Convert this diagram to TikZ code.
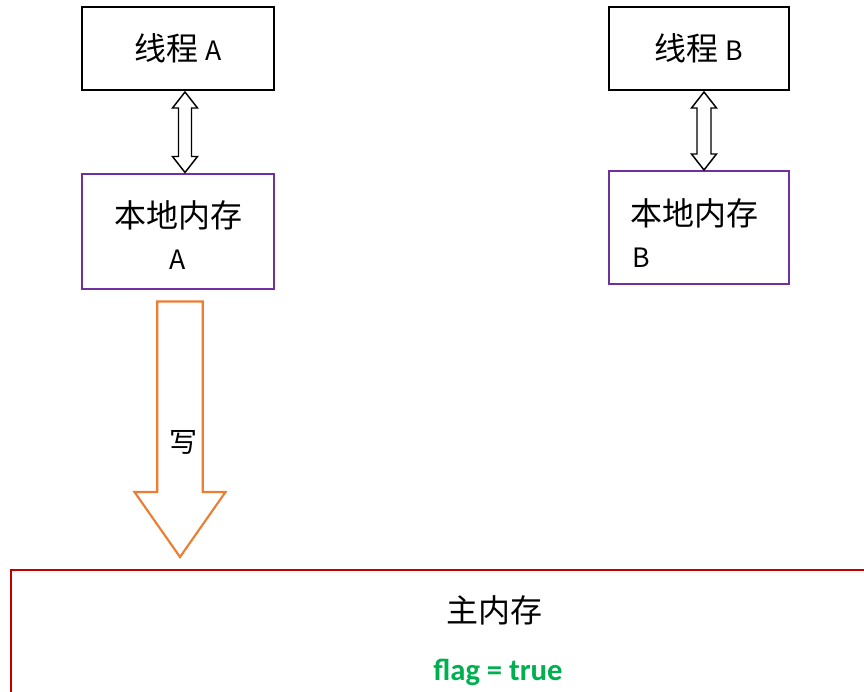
\documentclass[tikz,border=0pt]{standalone}
\usepackage{fontspec}
\setmainfont{Noto Sans CJK SC}
\newfontfamily\flagfont{Carlito}
\usetikzlibrary{calc}

\definecolor{localpurple}{HTML}{7030A0}
\definecolor{writeorange}{HTML}{ED7D31}
\definecolor{mainred}{HTML}{C00000}
\definecolor{flaggreen}{HTML}{00B050}

\newcommand{\latinsz}{\fontsize{20pt}{24pt}\selectfont}

\tikzset{
	threadbox/.style={draw, line width=1.5pt, inner sep=0pt,
		font=\fontsize{24pt}{30pt}\selectfont},
	localbox/.style={draw=localpurple, line width=1.5pt, inner sep=0pt},
	mainbox/.style={draw=mainred, line width=1.5pt, inner sep=0pt},
	txt/.style={inner sep=0pt, font=\fontsize{24pt}{30pt}\selectfont},
	dblarrow/.style={draw, line width=1.1pt, fill=white, line join=miter},
	writearrow/.style={draw=writeorange, line width=1.6pt, fill=white, line join=miter}
}

\begin{document}
\begin{tikzpicture}[x=0.75pt, y=-0.75pt]
		\useasboundingbox (0,0) rectangle (864,692);
		\clip (0,0) rectangle (864,692);

		% Threads and their local memories
		\node[threadbox, minimum width=144pt, minimum height=62.25pt] (thA) at (178,48.5) {线程 {\latinsz A}};
		\node[localbox, minimum width=144pt, minimum height=86.25pt] (locA) at (178,231) {};
		\node[txt] (locAtop) at (178,215) {本地内存};
		\node[txt, font=\latinsz] (locAbot) at (178,260) {A};

		\node[threadbox, minimum width=135pt, minimum height=62.25pt] (thB) at (699,48.5) {线程 {\latinsz B}};
		\node[localbox, minimum width=135pt, minimum height=84.75pt] (locB) at (699,227.5) {};
		\node[txt, anchor=west] (locBtop) at (630,213) {本地内存};
		\node[txt, anchor=west, font=\latinsz] (locBbot) at (632,258) {B};

		% Main memory
		\node[mainbox, anchor=north west, minimum width=660pt, minimum height=150pt] (mainmem) at (10,569) {};
		\node[txt] (mainlbl) at (494,610) {主内存};
		\node[inner sep=0pt, anchor=base, text=flaggreen,
			font=\flagfont\bfseries\fontsize{23pt}{28pt}\selectfont] (flag) at (498,680) {flag = true};

		% Hollow double arrows thread <-> local memory
		\coordinate (tA) at ($(thA.south)+(7,1)$);
		\coordinate (bA) at ($(locA.north)+(7,0)$);
		\draw[dblarrow] (tA) -- ($(tA)+(12.5,16)$) -- ($(tA)+(6.5,16)$) -- ($(bA)+(6.5,-16)$)
			-- ($(bA)+(12.5,-16)$) -- (bA) -- ($(bA)+(-12.5,-16)$) -- ($(bA)+(-6.5,-16)$)
			-- ($(tA)+(-6.5,16)$) -- ($(tA)+(-12.5,16)$) -- cycle;

		\coordinate (tB) at ($(thB.south)+(5,1)$);
		\coordinate (bB) at ($(locB.north)+(5,0)$);
		\draw[dblarrow] (tB) -- ($(tB)+(12.5,16)$) -- ($(tB)+(7,16)$) -- ($(bB)+(7,-16)$)
			-- ($(bB)+(12.5,-16)$) -- (bB) -- ($(bB)+(-12.5,-16)$) -- ($(bB)+(-7,-16)$)
			-- ($(tB)+(-7,16)$) -- ($(tB)+(-12.5,16)$) -- cycle;

		% Write arrow local memory A -> main memory
		\coordinate (wTop) at ($(locA.south)+(2,12)$);
		\coordinate (wTip) at ($(wTop |- mainmem.north)+(0,-12)$);
		\draw[writearrow] ($(wTop)+(-22.7,0)$) -- ($(wTip)+(-22.7,-65)$) -- ($(wTip)+(-45.5,-65)$)
			-- (wTip) -- ($(wTip)+(45.5,-65)$) -- ($(wTip)+(22.7,-65)$) -- ($(wTop)+(22.7,0)$) -- cycle;
		\node[inner sep=0pt, font=\fontsize{21pt}{24pt}\selectfont] (wlbl) at (183,442) {写};
	\end{tikzpicture}
\end{document}
